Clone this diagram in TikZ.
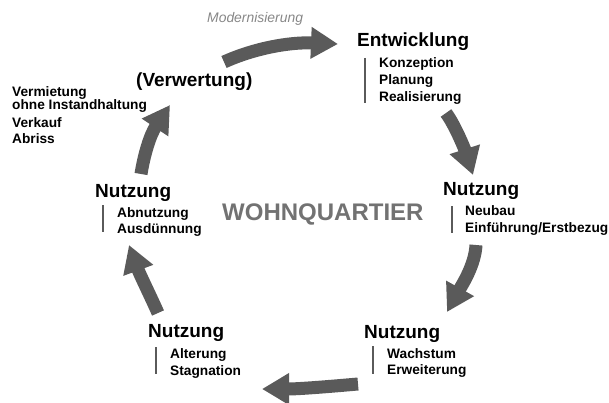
\documentclass[tikz,border=0pt]{standalone}
\usepackage{fontspec}
\setmainfont{Liberation Sans}
\usetikzlibrary{arrows.meta}
\definecolor{arrowgray}{HTML}{5A5A5A}
\definecolor{titlegray}{HTML}{727272}
\definecolor{modgray}{HTML}{878787}
\begin{document}
\begin{tikzpicture}[x=1pt,y=-1pt,
  stage/.style={anchor=base west, inner sep=0pt, font=\bfseries\fontsize{19}{19}\selectfont},
  sub/.style={anchor=base west, inner sep=0pt, font=\bfseries\fontsize{13.7}{17}\selectfont},
  bar/.style={draw=arrowgray, line width=1.2pt},
  cyc/.style={draw=arrowgray, line width=13pt, line cap=butt, -{Triangle[length=27pt,width=30pt]}}]
\useasboundingbox (0,0) rectangle (609,403);
\clip (0,0) rectangle (609,403);

% centre title
\node[anchor=base west, inner sep=0pt, text=titlegray, font=\bfseries\fontsize{24}{24}\selectfont] (title) at (222,220) {WOHNQUARTIER};

% Modernisierung
\node[anchor=base west, inner sep=0pt, text=modgray, font=\itshape\fontsize{13.9}{14}\selectfont] (mod) at (207,23) {Modernisierung};

% Entwicklung
\node[stage] (entw) at (357,47) {Entwicklung};
\node[sub] (e1) at (379,68) {Konzeption};
\node[sub] (e2) at (379,85) {Planung};
\node[sub] (e3) at (379,102) {Realisierung};
\draw[bar] (365,58) -- (365,103);

% Nutzung right
\node[stage] (nr) at (443,195) {Nutzung};
\node[sub] (nr1) at (465,215) {Neubau};
\node[sub] (nr2) at (465,232) {Einführung/Erstbezug};
\draw[bar] (452,206) -- (452,233);

% Nutzung lower right
\node[stage] (nlr) at (364,338) {Nutzung};
\node[sub] (nlr1) at (387,358) {Wachstum};
\node[sub] (nlr2) at (387,374) {Erweiterung};
\draw[bar] (373,346) -- (373,374);

% Nutzung lower left
\node[stage] (nll) at (148,337) {Nutzung};
\node[sub] (nll1) at (170,358) {Alterung};
\node[sub] (nll2) at (170,375) {Stagnation};
\draw[bar] (156,347) -- (156,374);

% Nutzung left
\node[stage] (nl) at (95,197) {Nutzung};
\node[sub] (nl1) at (117,217) {Abnutzung};
\node[sub] (nl2) at (117,233) {Ausdünnung};
\draw[bar] (103,205) -- (103,232);

% Verwertung
\node[stage] (verw) at (136,87) {(Verwertung)};
\node[sub] (v1) at (12,97) {Vermietung};
\node[sub] (v2) at (12,110) {ohne Instandhaltung};
\node[sub] (v3) at (12,128) {Verkauf};
\node[sub] (v4) at (12,144) {Abriss};

% cycle arrows
\coordinate (a1s) at (224,62);  \coordinate (a1e) at (338,44);
\coordinate (a2s) at (446,113); \coordinate (a2e) at (473,175);
\coordinate (a3s) at (476,245); \coordinate (a3e) at (447,312);
\coordinate (a4s) at (358,384); \coordinate (a4e) at (262,389);
\coordinate (a5s) at (158,313); \coordinate (a5e) at (129,245);
\coordinate (a6s) at (141,174); \coordinate (a6e) at (170,105);

\draw[cyc] (a1s) .. controls (255,48) and (290,42) .. (a1e);
\draw[cyc] (a2s) .. controls (455,125) and (465,150) .. (a2e);
\draw[cyc] (a3s) .. controls (475,265) and (462,285) .. (a3e);
\draw[cyc] (a4s) .. controls (335,386) and (300,389) .. (a4e);
\draw[cyc] (a5s) .. controls (150,295) and (140,275) .. (a5e);
\draw[cyc] (a6s) .. controls (144,155) and (150,135) .. (a6e);
\end{tikzpicture}
\end{document}
